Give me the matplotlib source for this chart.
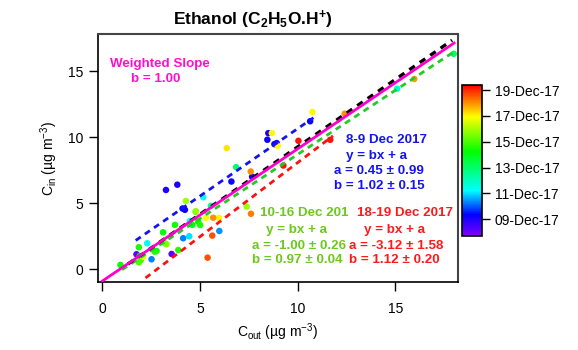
import matplotlib
matplotlib.use("Agg")
import matplotlib.pyplot as plt
import numpy as np
from matplotlib.colors import LinearSegmentedColormap, Normalize

plt.rcParams['font.family'] = ['Liberation Sans', 'DejaVu Sans']
plt.rcParams['mathtext.fontset'] = 'custom'
plt.rcParams['mathtext.rm'] = 'Liberation Sans'
plt.rcParams['mathtext.it'] = 'Liberation Sans:italic'
plt.rcParams['mathtext.bf'] = 'Liberation Sans:bold'

# ---- data ----
c_out = [3.25, 3.83, 8.49, 8.44, 8.80, 8.92, 10.63, 6.60, 7.66, 4.10, 4.22,
         1.74, 3.54,
         4.13, 2.51, 5.98,
         5.16, 4.48, 4.44, 2.29, 15.08,
         5.55, 6.84, 17.98,
         4.90, 5.00, 4.77, 3.71, 3.10, 3.88, 1.86, 1.91, 0.92, 2.77, 2.68, 1.96, 1.86, 4.60,
         4.27, 4.78, 3.28, 7.38, 3.20,
         8.67, 8.97, 6.36, 10.75, 5.30, 5.96, 2.08,
         7.59, 12.40, 15.96, 5.67, 7.60,
         5.62, 5.38,
         9.26, 10.03, 11.66]
c_in = [6.00, 6.40, 10.30, 9.80, 9.47, 9.55, 11.20, 6.64, 7.00, 4.60, 4.50,
        1.14, 1.16,
        2.35, 0.76, 2.90,
        5.45, 3.66, 2.50, 1.97, 13.66,
        4.80, 7.73, 16.30,
        3.60, 3.35, 4.36, 3.36, 2.80, 1.46, 1.67, 1.00, 0.33, 1.39, 1.33, 0.70, 0.53, 3.36,
        5.17, 4.40, 1.90, 4.74, 1.97,
        10.30, 9.34, 9.17, 11.90, 3.90, 3.90, 0.95,
        7.40, 11.77, 14.40, 3.90, 4.20,
        2.55, 0.88,
        7.85, 9.72, 9.80]
day_dec = [9.0, 9.0, 9.1, 9.2, 9.1, 9.0, 9.2, 9.2, 9.1, 9.3, 9.2,
           8.1, 8.2,
           10.3, 10.3, 10.4,
           11.3, 11.3, 11.0, 11.4, 11.8,
           12.6, 13.0, 13.2,
           14.3, 14.5, 14.8, 14.4, 14.2, 14.6, 14.5, 14.4, 14.2, 14.3, 14.6, 14.9, 15.0, 14.0,
           15.9, 15.8, 15.7, 15.9, 15.5,
           17.0, 17.0, 17.2, 17.0, 16.9, 17.0, 16.8,
           18.0, 18.0, 17.9, 18.0, 18.2,
           18.6, 18.6,
           19.2, 19.2, 19.2]

# fits: slope, intercept, x-range
fit_names = ['8-9 Dec 2017', '10-16 Dec 201', '18-19 Dec 2017']
fit_slope = [1.02, 0.97, 1.12]
fit_intercept = [0.45, -1.00, -3.12]
fit_aerr = [0.99, 0.26, 1.58]
fit_berr = [0.15, 0.04, 0.20]
fit_xrange = [(1.7, 10.8), (1.0, 18.0), (2.2, 11.8)]
all_slope, all_intercept, all_xrange = 1.02, -0.93, (1.3, 17.9)
w_slope, w_intercept, w_xrange = 1.00, -0.88, (0.0, 18.0)

cbar_ticks = [9, 11, 13, 15, 17, 19]
cbar_labels = ['09-Dec-17', '11-Dec-17', '13-Dec-17', '15-Dec-17', '17-Dec-17', '19-Dec-17']

# ---- figure ----
W, H = 578, 350
fig = plt.figure(figsize=(W / 100, H / 100), dpi=100)

def fx(px):
    return px / W

def fy(py):
    return 1 - py / H

ax = fig.add_axes([fx(98), fy(282), fx(458) - fx(98), fy(34) - fy(282)])
ax.set_xlim(-0.23, 18.2)
ax.set_ylim(-0.96, 17.8)

cmap = LinearSegmentedColormap.from_list('igor_rainbow', [
    (0.00, (0.50, 0.00, 1.00)),
    (0.14, (0.00, 0.00, 1.00)),
    (0.30, (0.00, 1.00, 1.00)),
    (0.56, (0.00, 1.00, 0.00)),
    (0.79, (1.00, 1.00, 0.00)),
    (1.00, (1.00, 0.00, 0.00)),
])
norm = Normalize(vmin=7.7, vmax=19.4)

sc = ax.scatter(c_out, c_in, c=day_dec, cmap=cmap, norm=norm, s=22,
                edgecolors='none', zorder=2)

line_colors = ['#1414F0', '#22CC22', '#FF1010']
for b, a, (x0, x1), col in zip(fit_slope, fit_intercept, fit_xrange, line_colors):
    xs = np.array([x0, x1])
    ax.plot(xs, b * xs + a, color=col, lw=2.0, ls=(0, (2.2, 1.8)), zorder=3)

xs = np.array(all_xrange)
ax.plot(xs, all_slope * xs + all_intercept, color='black', lw=2.4,
        ls=(0, (2.0, 1.8)), zorder=4)
xs = np.array(w_xrange)
ax.plot(xs, w_slope * xs + w_intercept, color='#FF00CC', lw=2.0, zorder=5)

ax.set_xticks([0, 5, 10, 15])
ax.set_yticks([0, 5, 10, 15])
ax.tick_params(direction='out', length=6.5, width=1.0, labelsize=10,
               colors='black', pad=4)
ax.tick_params(axis='x', pad=8)
for side in ['top', 'right']:
    ax.spines[side].set_color('#444444')
    ax.spines[side].set_linewidth(1.5)
for side in ['left', 'bottom']:
    ax.spines[side].set_color('black')
    ax.spines[side].set_linewidth(1.2)

ax.set_xlabel(r'C$_{\mathrm{out}}$ (µg m$^{-3}$)', fontsize=10, labelpad=4)
ax.set_ylabel(r'C$_{\mathrm{in}}$ (µg m$^{-3}$)', fontsize=10, labelpad=6)

fig.text(fx(253), fy(25), r'Ethanol (C$_\mathbf{2}$H$_\mathbf{5}$O.H$^\mathbf{+}$)',
         fontsize=12.5, fontweight='bold', ha='center', va='baseline')

# annotations (line by line, centred)
def put_lines(lines, centers_x, centers_y, color):
    for t, cx, cy in zip(lines, centers_x, centers_y):
        fig.text(fx(cx), fy(cy), t, color=color, fontsize=9.6, fontweight='bold',
                 ha='center', va='center')

put_lines(['Weighted Slope', 'b = %.2f' % w_slope], [159.5, 156], [63.5, 78.5], '#FF10CC')

text_cols = ['#1414F0', '#6CC81E', '#FF1A1A']
cx_sets = [[386.5, 376.5, 379, 379.5], [304, 297, 299, 297.7], [405, 394, 396, 394.5]]
cy_sets = [[140, 155.7, 170.7, 185.7], [213.3, 230, 245.7, 260], [213.3, 230, 245.7, 260]]
for name, a, ae, b, be, col, cxs, cys in zip(fit_names, fit_intercept, fit_aerr,
                                             fit_slope, fit_berr, text_cols, cx_sets, cy_sets):
    lines = [name, 'y = bx + a', 'a = %.2f ± %.2f' % (a, ae), 'b = %.2f ± %.2f' % (b, be)]
    put_lines(lines, cxs, cys, col)

# colorbar
cax = fig.add_axes([fx(462), fy(236), fx(482) - fx(462), fy(85) - fy(236)])
cb = fig.colorbar(sc, cax=cax)
cb.set_ticks(cbar_ticks)
cb.set_ticklabels(cbar_labels)
cb.outline.set_linewidth(1.2)
cb.outline.set_edgecolor('black')
cax.tick_params(direction='out', length=6, width=1.0, labelsize=10, pad=3)

fig.savefig('out.png', dpi=100)
